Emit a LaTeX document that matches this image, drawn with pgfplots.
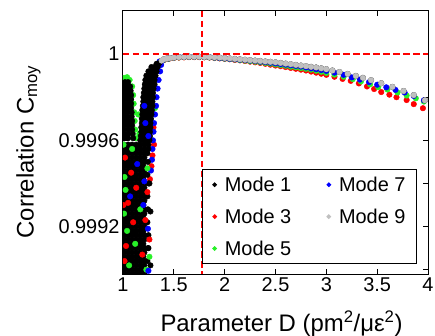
\documentclass[border=0pt]{standalone}
\usepackage{fontspec}
\setmainfont{Liberation Sans}
\usepackage{pgfplots}
\pgfplotsset{compat=1.18}
\definecolor{mA}{RGB}{0,0,0}
\definecolor{mB}{RGB}{255,0,0}
\definecolor{mC}{RGB}{40,240,40}
\definecolor{mD}{RGB}{0,0,255}
\definecolor{mE}{RGB}{192,192,192}
\pgfplotsset{dot/.style={only marks, mark=*, color=#1, mark size=2.8bp, mark options={solid, line width=0.4bp}, forget plot}}
\begin{document}
\begin{tikzpicture}
\useasboundingbox (-123bp,-62bp) rectangle (312bp,274bp);
\begin{axis}[
  at={(0,0)}, anchor=south west,
  scale only axis, width=305bp, height=263bp,
  xmin=1, xmax=4, ymin=0.99898, ymax=1.0002,
  xtick={1,1.5,2,2.5,3,3.5,4}, xticklabels={1,1.5,2,2.5,3,3.5,4},
  ytick={0.999,0.9992,0.9994,0.9996,0.9998,1}, yticklabels={,0.9992,,0.9996,,1},
  minor tick num=0,
  tick align=inside, major tick length=5bp,
  every tick/.style={black, line width=1bp},
  axis line style={line width=1bp},
  /pgf/number format/assume math mode=true,
  tick label style={font=\fontsize{20}{24}\selectfont},
  label style={font=\fontsize{24}{28}\selectfont},
  xlabel={Parameter D (pm\textsuperscript{2}/με\textsuperscript{2})},
  ylabel={Correlation C\textsubscript{moy}},
  xlabel style={at={(axis description cs:0.5197,-0.2194)}, anchor=base},
  ylabel style={at={(axis description cs:-0.2934,0.4639)}, anchor=base},
  clip marker paths=true,
  legend columns=2,
  legend cell align=left,
  legend image code/.code={\path (-9bp,0bp) (7.7bp,0bp); \draw[mark repeat=2,mark phase=2,#1] plot coordinates {(-1bp,0bp) (0bp,0bp) (1bp,0bp)};},
  legend style={at={(0.258,0.038)}, anchor=south west, draw=black, line width=1bp, fill=white,
    font=\fontsize{20}{24}\selectfont, inner xsep=3bp, inner ysep=5bp,
    /tikz/column sep=0bp, /tikz/row sep=12bp,
    /tikz/every even column/.append style={column sep=26bp}},
]
\addlegendimage{only marks, mark=*, color=mA, mark size=1.8bp}
\addlegendimage{only marks, mark=*, color=mD, mark size=1.8bp}
\addlegendimage{only marks, mark=*, color=mB, mark size=1.8bp}
\addlegendimage{only marks, mark=*, color=mE, mark size=1.8bp}
\addlegendimage{only marks, mark=*, color=mC, mark size=1.8bp}

% ---- Mode 3 (red), layer under black
\addplot[dot=mB] coordinates {
(1.305,0.99958)(1.29,0.99953)(1.28,0.99948)(1.265,0.99942)(1.30,0.99966)
(1.36,0.999962)(1.40,0.999972)(1.45,0.999978)(1.50,0.999982)(1.55,0.999984)(1.60,0.999985)(1.65,0.999986)(1.70,0.999986)(1.75,0.999986)(1.80,0.999985)(1.85,0.999984)(1.90,0.999982)(1.95,0.99998)(2.00,0.999978)(2.05,0.999976)(2.10,0.999973)(2.15,0.999971)(2.20,0.999968)(2.25,0.999965)(2.30,0.999962)(2.35,0.999959)(2.40,0.999955)(2.45,0.999951)(2.50,0.999947)(2.55,0.999944)(2.60,0.99994)(2.65,0.999936)(2.70,0.999932)(2.75,0.999928)(2.80,0.999924)(2.85,0.999919)(2.90,0.999914)(2.95,0.999909)(3.00,0.999904)(3.08,0.999895)(3.16,0.999885)(3.24,0.999876)(3.32,0.999864)(3.40,0.99985)(3.47,0.999838)(3.54,0.999824)(3.62,0.999812)(3.69,0.9998)(3.79,0.999787)(3.86,0.999768)(3.95,0.999749)
};
% ---- Mode 5 (green), layer under black
\addplot[dot=mC] coordinates {
(1.01,0.99989)(1.04,0.999893)(1.065,0.99988)(1.09,0.99985)(1.10,0.99981)(1.105,0.99977)(1.11,0.99973)(1.115,0.99969)(1.12,0.99965)(1.125,0.99961)(1.13,0.99957)(1.15,0.99972)(1.16,0.99963)(1.305,0.99985)(1.315,0.99975)
(1.36,0.999964)(1.40,0.999973)(1.45,0.999979)(1.50,0.999983)(1.55,0.999985)(1.60,0.999986)(1.65,0.999987)(1.70,0.999987)(1.75,0.999987)(1.80,0.999986)(1.85,0.999985)(1.90,0.999983)(1.95,0.999981)(2.00,0.999979)(2.05,0.999977)(2.10,0.999975)(2.15,0.999972)(2.20,0.99997)(2.25,0.999967)(2.30,0.999965)(2.35,0.999962)(2.40,0.999959)(2.45,0.999956)(2.50,0.999952)(2.55,0.999949)(2.60,0.999946)(2.65,0.999942)(2.70,0.999939)(2.75,0.999935)(2.80,0.999932)(2.85,0.999928)(2.90,0.999923)(2.95,0.999918)(3.00,0.999913)(3.08,0.999905)(3.17,0.999895)(3.26,0.999884)(3.34,0.999873)(3.43,0.99986)(3.51,0.999847)(3.60,0.999836)(3.70,0.999822)(3.79,0.999808)(3.88,0.999795)(3.96,0.99978)
};
% ---- Mode 7 (blue), layer under black
\addplot[dot=mD] coordinates {
(1.375,0.99995)(1.365,0.99992)(1.35,0.99988)(1.34,0.99984)(1.33,0.9998)(1.325,0.99976)(1.315,0.99972)(1.305,0.99968)(1.30,0.99964)(1.295,0.9996)(1.29,0.99956)(1.285,0.99951)(1.275,0.99946)
(1.36,0.999966)(1.40,0.999974)(1.45,0.99998)(1.50,0.999984)(1.55,0.999986)(1.60,0.999987)(1.65,0.999988)(1.70,0.999988)(1.75,0.999988)(1.80,0.999987)(1.85,0.999986)(1.90,0.999984)(1.95,0.999982)(2.00,0.99998)(2.05,0.999978)(2.10,0.999976)(2.15,0.999974)(2.20,0.999972)(2.25,0.99997)(2.30,0.999968)(2.35,0.999965)(2.40,0.999963)(2.45,0.99996)(2.50,0.999957)(2.55,0.999954)(2.60,0.999951)(2.65,0.999948)(2.70,0.999945)(2.75,0.999942)(2.80,0.999938)(2.85,0.999934)(2.90,0.99993)(2.95,0.999926)(3.00,0.999922)(3.08,0.999914)(3.17,0.999904)(3.25,0.999892)(3.33,0.999882)(3.42,0.99987)(3.50,0.999858)(3.59,0.999846)(3.68,0.999834)(3.77,0.999822)(3.86,0.999806)(3.96,0.999786)
};
% ---- Mode 1 (black)
\addplot[dot=mA] coordinates {
(1.02,0.99987)(1.05,0.99987)
(1.01,0.99985)(1.04,0.99985)(1.07,0.99985)
(1.01,0.99983)(1.04,0.99983)(1.075,0.99983)
(1.01,0.99981)(1.04,0.99981)(1.08,0.99981)
(1.01,0.99979)(1.045,0.99979)(1.08,0.99979)
(1.01,0.99977)(1.045,0.99977)(1.08,0.99977)
(1.01,0.99975)(1.045,0.99975)(1.08,0.99975)
(1.01,0.99973)(1.045,0.99973)(1.085,0.99973)
(1.01,0.99971)(1.045,0.99971)(1.085,0.99971)
(1.01,0.99969)(1.05,0.99969)(1.09,0.99969)
(1.01,0.99967)(1.05,0.99967)(1.09,0.99967)
(1.01,0.99965)(1.05,0.99965)(1.09,0.99965)
(1.01,0.99963)(1.05,0.99963)(1.095,0.99963)
(1.01,0.99961)(1.05,0.99961)(1.10,0.99961)
(1.33,0.999955)(1.35,0.999955)(1.36,0.99996)
(1.28,0.99994)(1.31,0.99994)(1.34,0.99994)
(1.25,0.99992)(1.28,0.99992)(1.31,0.99992)(1.33,0.99992)
(1.23,0.9999)(1.26,0.9999)(1.29,0.9999)(1.32,0.9999)
(1.22,0.99988)(1.25,0.99988)(1.28,0.99988)(1.31,0.99988)
(1.215,0.99986)(1.25,0.99986)(1.28,0.99986)(1.31,0.99986)
(1.21,0.99984)(1.24,0.99984)(1.27,0.99984)(1.30,0.99984)
(1.205,0.99982)(1.24,0.99982)(1.27,0.99982)(1.295,0.99982)
(1.20,0.9998)(1.23,0.9998)(1.26,0.9998)(1.295,0.9998)
(1.20,0.99978)(1.23,0.99978)(1.26,0.99978)(1.29,0.99978)
(1.195,0.99976)(1.225,0.99976)(1.255,0.99976)(1.29,0.99976)
(1.19,0.99974)(1.22,0.99974)(1.25,0.99974)(1.285,0.99974)
(1.19,0.99972)(1.22,0.99972)(1.25,0.99972)(1.28,0.99972)
(1.185,0.9997)(1.215,0.9997)(1.245,0.9997)(1.275,0.9997)
(1.185,0.99968)(1.215,0.99968)(1.245,0.99968)(1.27,0.99968)
(1.18,0.99966)(1.21,0.99966)(1.24,0.99966)(1.27,0.99966)
(1.18,0.99964)(1.21,0.99964)(1.24,0.99964)(1.265,0.99964)
(1.175,0.99962)(1.205,0.99962)(1.235,0.99962)(1.265,0.99962)
(1.17,0.9996)(1.20,0.9996)(1.23,0.9996)(1.26,0.9996)
(1.01,0.99958)(1.05,0.99958)(1.09,0.99958)(1.13,0.99958)(1.17,0.99958)(1.21,0.99958)(1.25,0.99958)
(1.01,0.99956)(1.05,0.99956)(1.09,0.99956)(1.13,0.99956)(1.17,0.99956)(1.21,0.99956)(1.25,0.99956)
(1.01,0.99954)(1.05,0.99954)(1.09,0.99954)(1.13,0.99954)(1.17,0.99954)(1.21,0.99954)(1.24,0.99954)
(1.01,0.99952)(1.05,0.99952)(1.09,0.99952)(1.13,0.99952)(1.17,0.99952)(1.21,0.99952)
(1.01,0.9995)(1.05,0.9995)(1.09,0.9995)(1.13,0.9995)(1.17,0.9995)(1.21,0.9995)(1.245,0.9995)
(1.01,0.99948)(1.05,0.99948)(1.09,0.99948)(1.13,0.99948)(1.17,0.99948)(1.20,0.99948)
(1.01,0.99946)(1.05,0.99946)(1.09,0.99946)(1.13,0.99946)(1.17,0.99946)(1.21,0.99946)
(1.01,0.99944)(1.05,0.99944)(1.09,0.99944)(1.13,0.99944)(1.17,0.99944)(1.21,0.99944)(1.24,0.99944)
(1.01,0.99942)(1.05,0.99942)(1.09,0.99942)(1.13,0.99942)(1.17,0.99942)(1.20,0.99942)
(1.01,0.9994)(1.05,0.9994)(1.09,0.9994)(1.13,0.9994)(1.17,0.9994)(1.21,0.9994)(1.25,0.9994)
(1.01,0.99938)(1.05,0.99938)(1.09,0.99938)(1.13,0.99938)(1.17,0.99938)(1.21,0.99938)
(1.01,0.99936)(1.05,0.99936)(1.09,0.99936)(1.13,0.99936)(1.17,0.99936)(1.20,0.99936)
(1.01,0.99934)(1.05,0.99934)(1.09,0.99934)(1.13,0.99934)(1.17,0.99934)(1.21,0.99934)(1.24,0.99934)
(1.01,0.99932)(1.05,0.99932)(1.09,0.99932)(1.13,0.99932)(1.17,0.99932)(1.21,0.99932)
(1.01,0.9993)(1.05,0.9993)(1.09,0.9993)(1.13,0.9993)(1.17,0.9993)(1.20,0.9993)
(1.01,0.99928)(1.05,0.99928)(1.09,0.99928)(1.13,0.99928)(1.17,0.99928)(1.21,0.99928)(1.245,0.99928)
(1.01,0.99926)(1.05,0.99926)(1.09,0.99926)(1.13,0.99926)(1.17,0.99926)(1.21,0.99926)
(1.01,0.99924)(1.05,0.99924)(1.09,0.99924)(1.13,0.99924)(1.17,0.99924)(1.20,0.99924)
(1.01,0.99922)(1.05,0.99922)(1.09,0.99922)(1.13,0.99922)(1.17,0.99922)(1.21,0.99922)(1.24,0.99922)
(1.01,0.9992)(1.05,0.9992)(1.09,0.9992)(1.13,0.9992)(1.17,0.9992)(1.21,0.9992)
(1.01,0.99918)(1.05,0.99918)(1.09,0.99918)(1.13,0.99918)(1.17,0.99918)(1.20,0.99918)
(1.01,0.99916)(1.05,0.99916)(1.09,0.99916)(1.13,0.99916)(1.17,0.99916)(1.21,0.99916)(1.25,0.99916)
(1.01,0.99914)(1.05,0.99914)(1.09,0.99914)(1.13,0.99914)(1.17,0.99914)(1.21,0.99914)
(1.01,0.99912)(1.05,0.99912)(1.09,0.99912)(1.13,0.99912)(1.17,0.99912)(1.20,0.99912)
(1.01,0.9991)(1.05,0.9991)(1.09,0.9991)(1.13,0.9991)(1.17,0.9991)(1.21,0.9991)(1.245,0.9991)
(1.01,0.99908)(1.05,0.99908)(1.09,0.99908)(1.13,0.99908)(1.17,0.99908)(1.21,0.99908)
(1.01,0.99906)(1.05,0.99906)(1.09,0.99906)(1.13,0.99906)(1.17,0.99906)(1.20,0.99906)
(1.01,0.99904)(1.05,0.99904)(1.09,0.99904)(1.13,0.99904)(1.17,0.99904)(1.21,0.99904)(1.24,0.99904)
(1.01,0.99902)(1.05,0.99902)(1.09,0.99902)(1.13,0.99902)(1.17,0.99902)(1.21,0.99902)
(1.01,0.999)(1.05,0.999)(1.09,0.999)(1.13,0.999)(1.17,0.999)(1.20,0.999)
(1.01,0.99898)(1.05,0.99898)(1.09,0.99898)(1.13,0.99898)(1.17,0.99898)(1.21,0.99898)
(1.27,0.99927)(1.26,0.9994)(1.25,0.9991)(1.27,0.99902)
(1.38,0.99997)(1.40,0.999976)(1.43,0.99998)(1.46,0.999982)(1.50,0.999984)(1.55,0.999986)(1.60,0.999987)(1.65,0.999988)(1.70,0.999988)(1.75,0.999988)(1.80,0.999987)(1.85,0.999986)(1.90,0.999985)(1.95,0.999984)(2.00,0.999982)(2.05,0.99998)(2.10,0.999978)(2.15,0.999976)(2.20,0.999974)(2.25,0.999972)(2.30,0.99997)(2.35,0.999968)(2.40,0.999966)(2.45,0.999964)(2.50,0.999962)(2.55,0.999959)(2.60,0.999956)(2.65,0.999953)(2.70,0.99995)(2.75,0.999947)(2.80,0.999944)(2.85,0.999941)(2.90,0.999938)(2.95,0.999934)(3.00,0.99993)(3.06,0.999924)(3.13,0.999917)(3.21,0.999908)(3.29,0.999899)(3.36,0.99989)(3.44,0.999879)(3.54,0.999865)(3.65,0.999848)(3.76,0.999829)(3.86,0.99981)(3.97,0.999786)
};
% ---- coloured points lying over the black mass
\addplot[dot=mB] coordinates {
(1.02,0.99952)(1.05,0.99931)(1.03,0.99911)(1.10,0.99922)(1.015,0.99904)(1.24,0.99936)(1.19,0.99907)(1.08,0.99945)(1.22,0.99923)(1.26,0.99914)(1.13,0.99938)(1.005,0.9993)
};
\addplot[dot=mC] coordinates {
(1.015,0.99943)(1.04,0.99918)(1.12,0.99912)(1.06,0.99902)(1.23,0.999)(1.17,0.99928)(1.01,0.99926)(1.24,0.99947)(1.26,0.99906)(1.025,0.99937)(1.005,0.99958)(1.09,0.99956)
};
\addplot[dot=mD] coordinates {
(1.20,0.9993)(1.14,0.99949)(1.245,0.99919)(1.07,0.99934)(1.25,0.998995)(1.21,0.99941)(1.22,0.99968)(1.25,0.99962)(1.21,0.99976)
};
% ---- Mode 9 (grey)
\addplot[dot=mE] coordinates {
(1.38,0.99997)(1.40,0.999976)(1.43,0.99998)(1.46,0.999982)(1.50,0.999984)(1.55,0.999986)(1.60,0.999987)(1.65,0.999988)(1.70,0.999988)(1.75,0.999988)(1.80,0.999987)(1.85,0.999986)(1.90,0.999985)(1.95,0.999984)(2.00,0.999982)(2.05,0.99998)(2.10,0.999978)(2.15,0.999976)(2.20,0.999974)(2.25,0.999972)(2.30,0.99997)(2.35,0.999968)(2.40,0.999966)(2.45,0.999964)(2.50,0.999962)(2.55,0.999959)(2.60,0.999956)(2.65,0.999953)(2.70,0.99995)(2.75,0.999947)(2.80,0.999944)(2.85,0.999941)(2.90,0.999938)(2.95,0.999934)(3.00,0.99993)(3.06,0.999924)(3.13,0.999917)(3.21,0.999908)(3.29,0.999899)(3.36,0.99989)(3.44,0.999879)(3.54,0.999865)(3.65,0.999848)(3.76,0.999829)(3.86,0.99981)(3.97,0.999786)
};
% ---- reference lines
\addplot[color=red, line width=1.3bp, dash pattern=on 6.5bp off 3.5bp, forget plot] coordinates {(1,1) (4,1)};
\draw[color=red, line width=1.5bp, dash pattern=on 6.5bp off 3.5bp] (rel axis cs:0.2583,1) -- (rel axis cs:0.2583,0);
\legend{Mode 1, Mode 7\hspace*{6bp}, Mode 3, Mode 9\hspace*{6bp}, Mode 5}
\end{axis}
\end{tikzpicture}
\end{document}
